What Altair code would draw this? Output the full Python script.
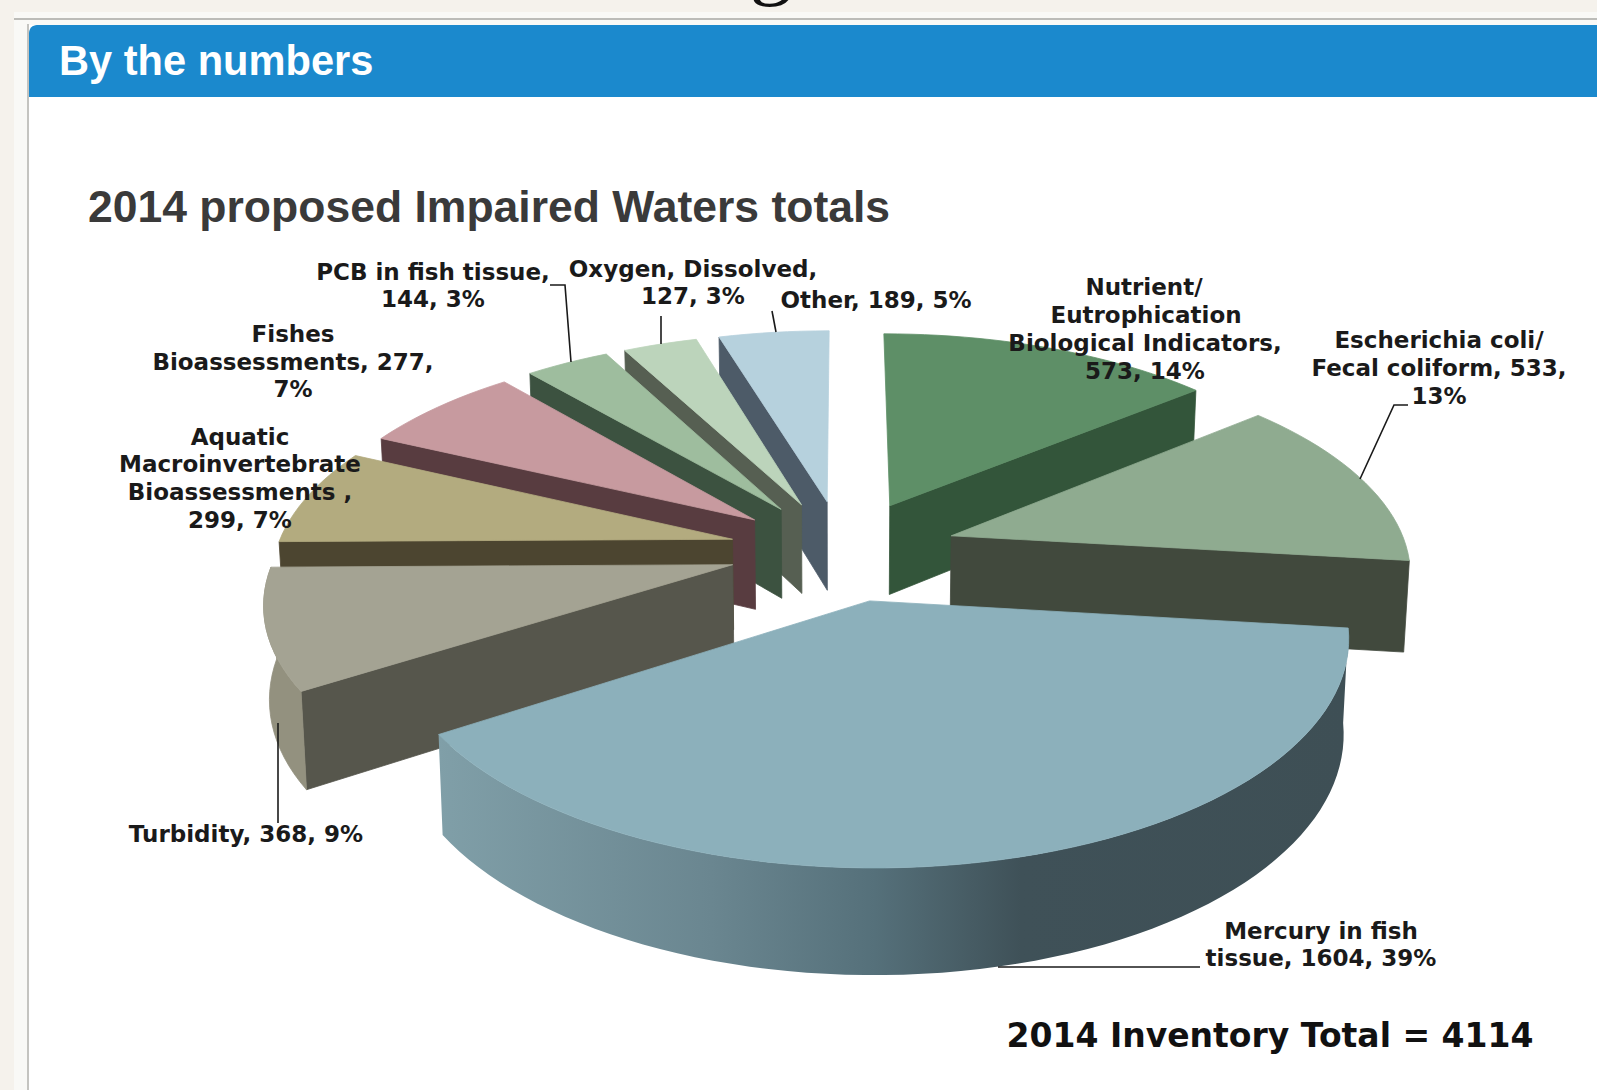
import math
import altair as alt
import pandas as pd

# Impaired Waters causes, listed clockwise from twelve o'clock
causes = ["Nutrient", "Ecoli", "Mercury", "Turbidity", "Aquatic", "Fishes", "PCB", "Oxygen", "Other"]
counts = [573, 533, 1604, 368, 299, 277, 144, 127, 189]
percents = [14, 13, 39, 9, 7, 7, 3, 3, 5]
inventory_total = 4114

top_colors = ["#5e8f67", "#8fab90", "#8cb0bb", "#a4a393", "#b3ab7f", "#c79a9f", "#9ebd9e", "#bcd4bb", "#b6d1dd"]
wall_colors = ["#33553a", "#41493d", "#3e4f55", "#56564c", "#4c4530", "#583c40", "#3c5240", "#565f52", "#4d5b68"]
TURBIDITY_RIM = "#93917f"
MERCURY_RIM_STOPS = [(0, "#809fa8"), (0.3, "#6a8690"), (0.48, "#55707a"), (0.64, "#3f5158"), (1, "#3e4f55")]

# Perspective camera for the tilted pie
CX, CY = 843, 550
RX, RY = 456, 210
TILT = 0.15
EXPLODE_X, EXPLODE_Y = 0.25, 0.24
DEPTH = 91
TAPER = 0.01


def project(a, b):
    w = 1 + TILT * b
    return CX + RX * a / w, CY - RY * b / w, w


def rim_point(mid, theta, radius=1.0):
    a = EXPLODE_X * math.sin(math.radians(mid)) + radius * math.sin(math.radians(theta))
    b = EXPLODE_Y * math.cos(math.radians(mid)) + radius * math.cos(math.radians(theta))
    return project(a, b)


def lower(pt):
    x, y, w = pt
    return CX + (x - CX) * (1 - TAPER), y + DEPTH / w ** 0.8


def polygon_rows(points, color, pid):
    return [{"poly": pid, "k": k, "x": p[0], "y": p[1], "c": color} for k, p in enumerate(points)]


back_rows, rim_rows, front_rows = [], [], []

# Turn the counts into slice angles
total = sum(counts)
edges = [0.0]
for n in counts:
    edges.append(edges[-1] + 360 * n / total)


def mid_angle(i):
    return (edges[i] + edges[i + 1]) / 2


def wall(i, theta):
    p0 = rim_point(mid_angle(i), theta, 0)
    p1 = rim_point(mid_angle(i), theta, 1)
    return [p0[:2], p1[:2], lower(p1), lower(p0)]


def arc(i):
    n = max(4, int((edges[i + 1] - edges[i]) / 2))
    return [rim_point(mid_angle(i), edges[i] + (edges[i + 1] - edges[i]) * j / n) for j in range(n + 1)]


def rim(i):
    pts = arc(i)
    return [p[:2] for p in pts] + [lower(p) for p in reversed(pts)]


def top(i):
    return [rim_point(mid_angle(i), 0, 0)[:2]] + [p[:2] for p in arc(i)]


# Paint from the back of the pie to the front
paint = []
for i in (8, 7, 6, 5, 4):
    paint += [(wall(i, edges[i]), wall_colors[i]), (top(i), top_colors[i])]
paint += [(wall(3, edges[3]), wall_colors[3]), (rim(3), TURBIDITY_RIM), (top(3), top_colors[3])]
paint += [(wall(0, edges[1]), wall_colors[0]), (top(0), top_colors[0])]
paint += [(wall(1, edges[2]), wall_colors[1]), (top(1), top_colors[1])]
for pid, (pts, color) in enumerate(paint):
    back_rows += polygon_rows(pts, color, pid)
rim_rows = polygon_rows(rim(2), wall_colors[2], 100)
front_rows = polygon_rows(top(2), top_colors[2], 101)

X = alt.X("x:Q", scale=alt.Scale(domain=[0, 1597], range=[0, 1597]), axis=None)
Y = alt.Y("y:Q", scale=alt.Scale(domain=[0, 1090], range=[0, 1090]), axis=None)
X2 = alt.X2("x2:Q")
Y2 = alt.Y2("y2:Q")


def solid_faces(rows):
    return alt.Chart(pd.DataFrame(rows)).mark_line(interpolate="linear-closed", strokeWidth=0.8).encode(
        x=X, y=Y, order="k:Q", detail="poly:N",
        stroke=alt.Stroke("c:N", scale=None),
        fill=alt.Fill("c:N", scale=None),
    )


# The big slice's rim darkens from left to right
mercury_rim = alt.Chart(pd.DataFrame(rim_rows)).mark_line(
    interpolate="linear-closed", strokeWidth=0, stroke=None,
    fill=alt.Gradient(
        gradient="linear", x1=0, x2=1, y1=0, y2=0,
        stops=[alt.GradientStop(offset=o, color=c) for o, c in MERCURY_RIM_STOPS],
    ),
).encode(x=X, y=Y, order="k:Q")

# Page furniture behind the chart
panels = pd.DataFrame([
    {"x": 14, "x2": 1597, "y": 12, "y2": 1090, "c": "#f9f9f6"},
    {"x": 14, "x2": 1597, "y": 18, "y2": 20, "c": "#bcbcb8"},
    {"x": 27, "x2": 29, "y": 24, "y2": 1090, "c": "#c4c4c0"},
    {"x": 29, "x2": 1597, "y": 25, "y2": 1090, "c": "#ffffff"},
])
frame = alt.Chart(panels).mark_rect().encode(x=X, x2=X2, y=Y, y2=Y2, color=alt.Color("c:N", scale=None))
header = alt.Chart(pd.DataFrame([{"x": 29, "x2": 1597, "y": 25, "y2": 97}])).mark_rect(
    color="#1b89cd", cornerRadiusTopLeft=8
).encode(x=X, x2=X2, y=Y, y2=Y2)

leaders = pd.DataFrame([
    {"id": id_, "k": k, "x": x, "y": y}
    for id_, pts in enumerate([
        [(550, 285), (565, 285), (571, 362)],
        [(661, 316), (661, 344)],
        [(772, 311), (776, 332)],
        [(1408, 405), (1394, 405), (1360, 479)],
        [(278, 723), (278, 823)],
        [(998, 967), (1200, 967)],
    ])
    for k, (x, y) in enumerate(pts)
])
leader_lines = alt.Chart(leaders).mark_line(color="#1a1a1a", strokeWidth=1.6).encode(
    x=X, y=Y, order="k:Q", detail="id:N"
)

label_lines = [
    (433, 273, "PCB in fish tissue,"),
    (433, 300, f"{counts[6]}, {percents[6]}%"),
    (693, 270, "Oxygen, Dissolved,"),
    (693, 297, f"{counts[7]}, {percents[7]}%"),
    (876, 301, f"Other, {counts[8]}, {percents[8]}%"),
    (1144, 288, "Nutrient/"),
    (1146, 316, "Eutrophication"),
    (1145, 344, "Biological Indicators,"),
    (1145, 372, f"{counts[0]}, {percents[0]}%"),
    (1439, 341, "Escherichia coli/"),
    (1439, 369, f"Fecal coliform, {counts[1]},"),
    (1439, 397, f"{percents[1]}%"),
    (293, 335, "Fishes"),
    (293, 363, f"Bioassessments, {counts[5]},"),
    (293, 390, f"{percents[5]}%"),
    (240, 438, "Aquatic"),
    (240, 465, "Macroinvertebrate"),
    (240, 493, "Bioassessments ,"),
    (240, 521, f"{counts[4]}, {percents[4]}%"),
    (246, 835, f"Turbidity, {counts[3]}, {percents[3]}%"),
    (1321, 932, "Mercury in fish"),
    (1321, 959, f"tissue, {counts[2]}, {percents[2]}%"),
]
labels = alt.Chart(pd.DataFrame(label_lines, columns=["x", "y", "t"])).mark_text(
    font="DejaVu Sans", fontWeight="bold", fontSize=23, color="#1a1a1a", baseline="middle", align="center"
).encode(x=X, y=Y, text="t:N")


def caption(text, x, y, size, color, font="Liberation Sans", align="left", weight="bold"):
    return alt.Chart(pd.DataFrame([{"x": x, "y": y, "t": text}])).mark_text(
        font=font, fontWeight=weight, fontSize=size, color=color, baseline="alphabetic", align=align
    ).encode(x=X, y=Y, text="t:N")


chart = alt.layer(
    frame,
    header,
    caption("By the numbers", 59, 75, 41.6, "#ffffff"),
    caption("2014 proposed Impaired Waters totals", 88, 222, 44.5, "#3a3a3a"),
    caption("g", 771, -11, 85, "#111111", font="Liberation Serif", align="center", weight="normal"),
    solid_faces(back_rows),
    mercury_rim,
    solid_faces(front_rows),
    leader_lines,
    labels,
    caption(f"2014 Inventory Total = {inventory_total}", 1270, 1047, 33, "#111111", font="DejaVu Sans", align="center"),
).properties(
    width=1597, height=1090, padding=0, background="#f5f2ec",
    autosize=alt.AutoSizeParams(type="none"),
).configure_view(stroke=None)

chart.save("out.html", embed_options={"renderer": "svg", "actions": False})
